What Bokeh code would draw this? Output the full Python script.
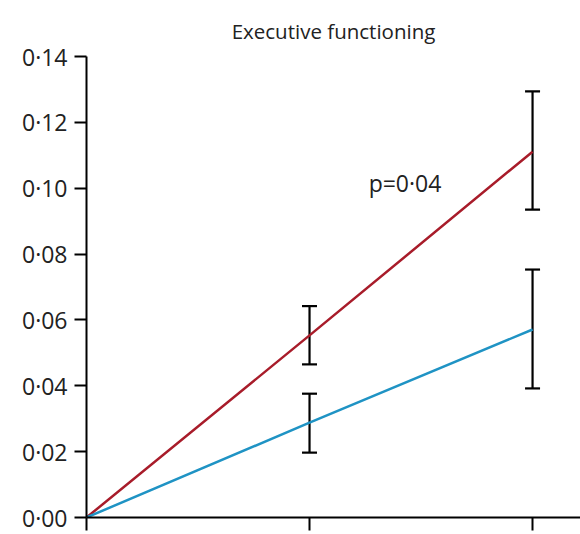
from bokeh.plotting import figure
from bokeh.models import ColumnDataSource, Whisker, TeeHead, FixedTicker, Range1d, Label
from bokeh.embed import file_html
from bokeh.resources import INLINE

# data
timepoints = [0, 1, 2]
red_mean = [0.0, 0.0553, 0.1111]
red_lower = [0.0, 0.0465, 0.0935]
red_upper = [0.0, 0.0642, 0.1294]
blue_mean = [0.0, 0.0288, 0.0571]
blue_lower = [0.0, 0.0197, 0.0392]
blue_upper = [0.0, 0.0376, 0.0753]
y_ticks = [0.0, 0.02, 0.04, 0.06, 0.08, 0.10, 0.12, 0.14]
y_tick_labels = ["0·00", "0·02", "0·04", "0·06", "0·08", "0·10", "0·12", "0·14"]
title_text = "Executive functioning"
p_text = "p=0·04"

FONT = "Open Sans"
RED = "#a81c2a"
BLUE = "#1f93c4"

p = figure(width=580, height=534, output_backend="svg", toolbar_location=None,
           x_range=Range1d(0, 2.215), y_range=Range1d(0, 0.14),
           min_border_left=86, min_border_right=0, min_border_top=56, min_border_bottom=17)
p.title.text = title_text
p.title.align = "center"
p.title.vertical_align = "top"
p.title.text_font = FONT
p.title.text_font_size = "20.5px"
p.title.text_font_style = "normal"
p.title.text_color = "#222222"
p.title.standoff = 20
p.outline_line_color = None
p.grid.visible = False
p.background_fill_color = "white"
p.border_fill_color = "white"

p.line(timepoints, red_mean, line_color=RED, line_width=2.5)
p.line(timepoints, blue_mean, line_color=BLUE, line_width=2.5)

for lo, hi in ((red_lower, red_upper), (blue_lower, blue_upper)):
    src = ColumnDataSource(dict(x=timepoints[1:], lower=lo[1:], upper=hi[1:]))
    w = Whisker(source=src, base="x", lower="lower", upper="upper",
                line_color="black", line_width=2.2,
                upper_head=TeeHead(size=15, line_color="black", line_width=2.2),
                lower_head=TeeHead(size=15, line_color="black", line_width=2.2))
    p.add_layout(w)

p.add_layout(Label(x=1.265, y=0.1017, text=p_text, text_font=FONT,
                   text_font_size="23px", text_color="#222222",
                   text_baseline="alphabetic", text_align="left"))

ya = p.yaxis[0]
ya.ticker = FixedTicker(ticks=y_ticks)
ya.major_label_overrides = {t: l for t, l in zip(y_ticks, y_tick_labels)}
ya.major_label_text_font = FONT
ya.major_label_text_font_size = "23px"
ya.major_label_text_color = "#222222"
ya.major_tick_out = 12
ya.major_tick_in = 0
ya.minor_tick_out = 0
ya.minor_tick_in = 0
ya.axis_line_width = 2
ya.major_tick_line_width = 2
ya.major_label_standoff = 7

xa = p.xaxis[0]
xa.ticker = FixedTicker(ticks=timepoints)
xa.major_label_text_font_size = "0px"
xa.major_label_text_alpha = 0
xa.major_tick_out = 13
xa.major_tick_in = 0
xa.minor_tick_out = 0
xa.minor_tick_in = 0
xa.axis_line_width = 2
xa.major_tick_line_width = 2

open("out.html", "w").write(file_html(p, INLINE))
